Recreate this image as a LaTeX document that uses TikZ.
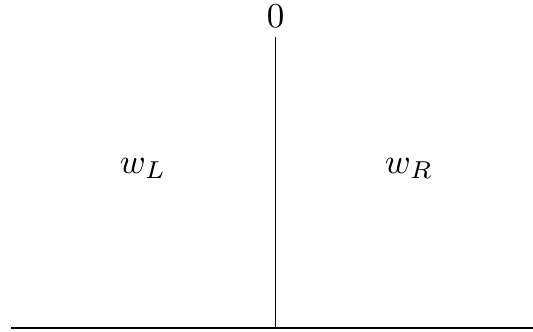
\documentclass[tikz,border=0pt]{standalone}
\begin{document}
\begin{tikzpicture}[x=0.2857pt,y=-0.2857pt,
  lbl/.style={inner sep=0pt,anchor=base},
  ln/.style={line width=0.4pt}]
\useasboundingbox (0,0) rectangle (533,331);
\coordinate (L) at (11,328);
\coordinate (R) at (533,328);
\coordinate (B) at (275.5,328);
\coordinate (T) at (275.5,37);
\node[lbl] (zero) at (275.5,27) {$0$};
\node[lbl] (wl) at (143,173) {$w_L$};
\node[lbl] (wr) at (409,173) {$w_R$};
\draw[ln] (L) -- (R);
\draw[ln] (T) -- (B);
\end{tikzpicture}
\end{document}
